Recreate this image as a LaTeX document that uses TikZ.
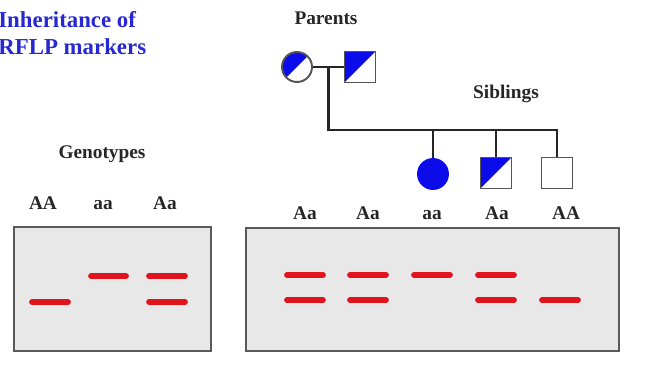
\documentclass[tikz,border=0pt]{standalone}
\usepackage{fontspec}
\setmainfont{Liberation Serif}
\usetikzlibrary{calc}
\definecolor{pedblue}{RGB}{12,12,235}
\definecolor{titleblue}{RGB}{40,40,210}
\definecolor{symgray}{RGB}{85,85,85}
\definecolor{gelgray}{RGB}{232,232,232}
\definecolor{geledge}{RGB}{90,90,90}
\definecolor{bandred}{RGB}{225,20,30}
\tikzset{
  lbl/.style={font=\fontsize{11}{13}\selectfont\bfseries, text=black!85, inner sep=0,
              text height=7.5pt, text depth=2.5pt},
  female/.style={circle, draw=symgray, line width=1.1pt, minimum size=0.6cm, inner sep=0},
  male/.style={rectangle, draw=symgray, line width=1.1pt, minimum size=0.62cm, inner sep=0},
  half/.style={path picture={\fill[pedblue] (path picture bounding box.south west) -- (path picture bounding box.north west) -- (path picture bounding box.north east) -- cycle;}},
  full/.style={fill=pedblue, draw=pedblue},
  pedline/.style={draw=black!85, line width=1.5pt},
  gel/.style={rectangle, draw=geledge, fill=gelgray, line width=1.3pt, inner sep=0},
  band/.style={draw=bandred, line width=3.3pt, line cap=round}
}
\begin{document}
\begin{tikzpicture}[x=0.02cm, y=-0.02cm]
\useasboundingbox (0,0) rectangle (646,377);

% title
\node[anchor=west, align=left, inner sep=0, text=titleblue,
      font=\fontsize{13}{15.5}\selectfont\bfseries] (title) at (-2,33)
      {Inheritance of\\RFLP markers};

% pedigree
\node[lbl] (parents) at (326,20) {Parents};
\node[lbl] (siblings) at (506,94) {Siblings};
\node[female, half] (mom) at (297,67) {};
\node[male, half] (dad) at (360,67) {};
\node[female, full] (s1) at (433,174) {};
\node[male, half] (s2) at (496,173) {};
\node[male] (s3) at (557,173) {};

\coordinate (mid) at ($(mom.east)!0.5!(dad.west)$);
\coordinate (barL) at (mid |- 0,130);
\coordinate (barR) at (s3 |- 0,130);
\draw[pedline] (mom.east) -- (dad.west);
\draw[pedline] (mid) -- (barL) -- (barR) -- (s3.north);
\draw[pedline] (s1 |- barL) -- (s1.north);
\draw[pedline] (s2 |- barL) -- (s2.north);

% left gel: reference genotypes
\node[lbl] (geno) at (102,154) {Genotypes};
\node[lbl] (gAA) at (43,205) {AA};
\node[lbl] (gaa) at (103,205) {aa};
\node[lbl] (gAa) at (165,205) {Aa};
\node[gel, minimum width=3.94cm, minimum height=2.48cm, anchor=north west] (gelL) at (13,226) {};
\draw[band] (32,302) -- (68,302);
\draw[band] (91,276) -- (126,276);
\draw[band] (149,276) -- (185,276);
\draw[band] (149,302) -- (185,302);

% right gel: family members
\node[lbl] (r1) at (305,215) {Aa};
\node[lbl] (r2) at (368,215) {Aa};
\node[lbl] (r3) at (432,215) {aa};
\node[lbl] (r4) at (497,215) {Aa};
\node[lbl] (r5) at (566,215) {AA};
\node[gel, minimum width=7.46cm, minimum height=2.46cm, anchor=north west] (gelR) at (245,227) {};
\draw[band] (287,275) -- (323,275);
\draw[band] (287,300) -- (323,300);
\draw[band] (350,275) -- (386,275);
\draw[band] (350,300) -- (386,300);
\draw[band] (414,275) -- (450,275);
\draw[band] (478,275) -- (514,275);
\draw[band] (478,300) -- (514,300);
\draw[band] (542,300) -- (578,300);
\end{tikzpicture}
\end{document}
